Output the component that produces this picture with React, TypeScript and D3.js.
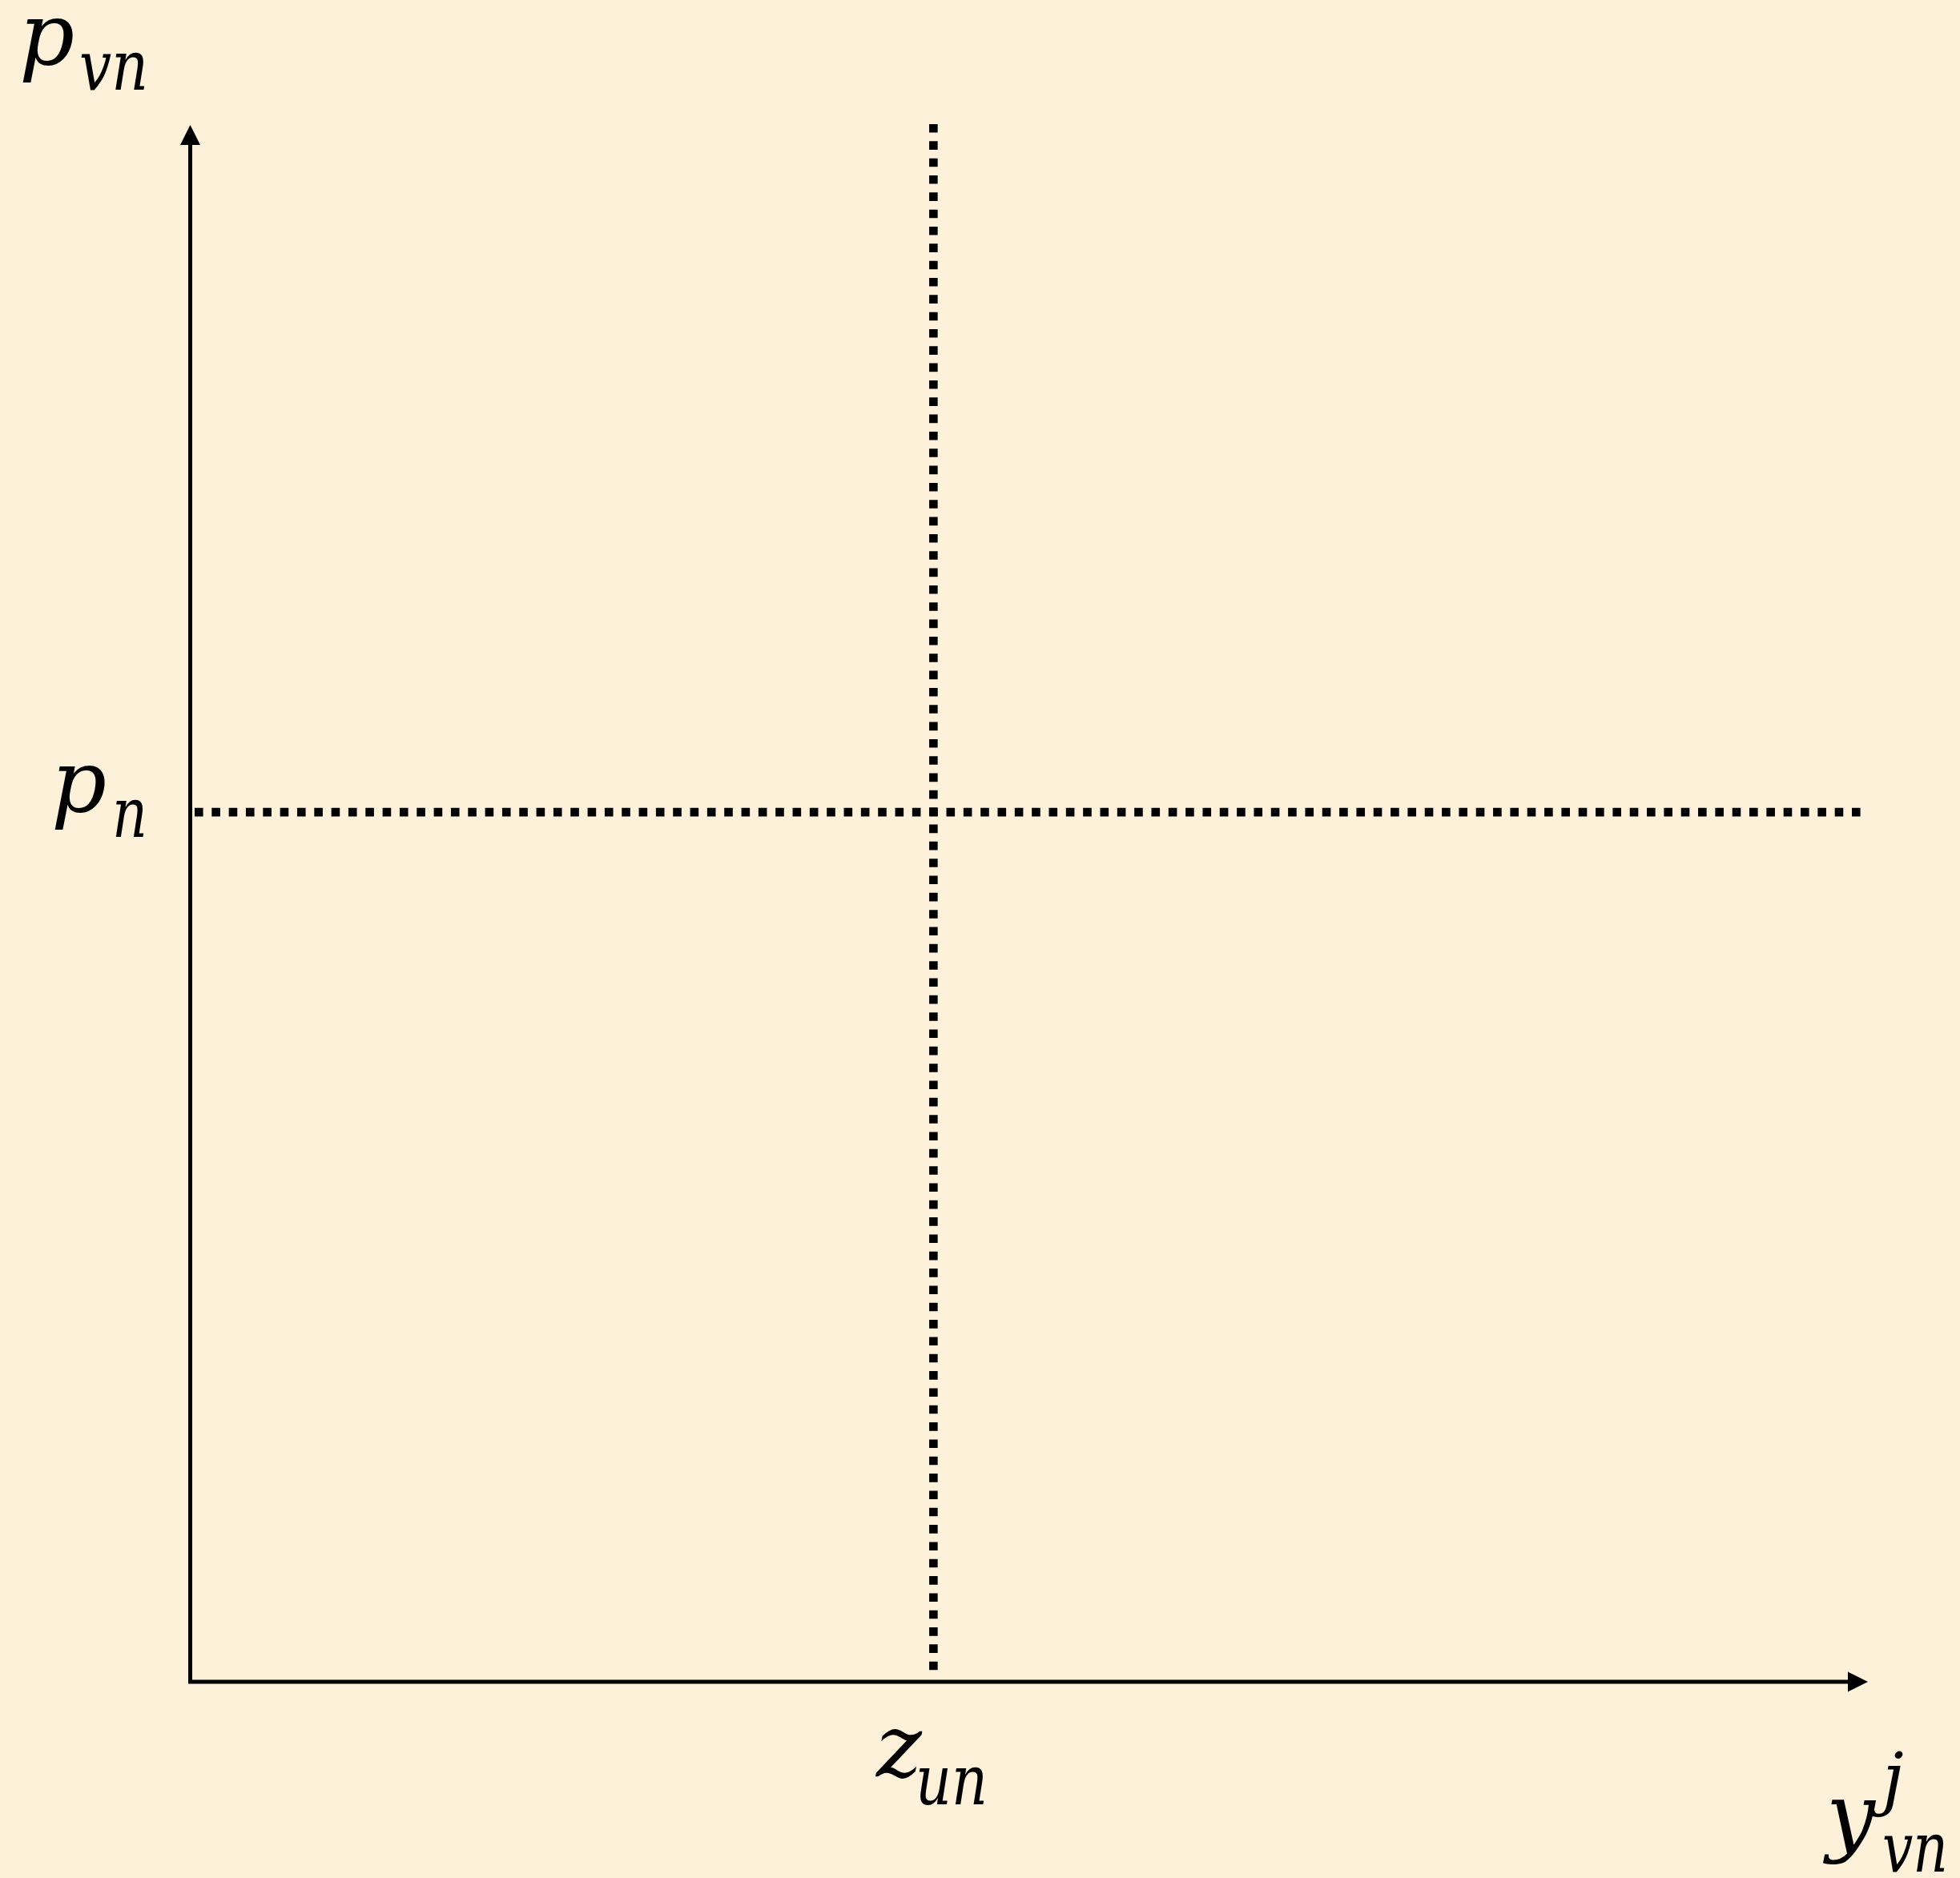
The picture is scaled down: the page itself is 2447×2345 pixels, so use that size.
import React from "react";
import * as d3 from "d3";

const W = 2447;
const H = 2345;

// Reference levels on the unit axes
const guideX = [0.443]; // z_un
const guideY = [0.5586]; // p_n

const BG = "#FDF2D9";
const INK = "#000000";

const x = d3.scaleLinear().domain([0, 1]).range([237.5, 2332]);
const y = d3.scaleLinear().domain([0, 1]).range([2100, 156]);

const FONT = "DejaVu Serif";

function Label({ base, sub, sup, bx, by, sx, sy, sw, supx, supy }: any) {
  return (
    <g fontFamily={FONT} fontStyle="italic" fill={INK}>
      <text x={bx} y={by} fontSize={108}>{base}</text>
      <text x={sx} y={sy} fontSize={86} textLength={sw} lengthAdjust="spacingAndGlyphs">{sub}</text>
      {sup && <text x={supx} y={supy} fontSize={86}>{sup}</text>}
    </g>
  );
}

export default function App() {
  const x0 = x(0), y0 = y(0), x1 = x(1), y1 = y(1);
  const head = 25;
  const half = 12.5;
  const dash = "10.6 10.73";
  return (
    <svg width={W} height={H} style={{ display: "block", position: "absolute", left: 0, top: 0 }}>
      <rect width={W} height={H} fill={BG} />
      {/* axes */}
      <line x1={x0} y1={y0} x2={x0} y2={y1 + head - 2} stroke={INK} strokeWidth={5} />
      <path d={`M${x0},${y1} L${x0 - half},${y1 + head} L${x0 + half},${y1 + head} Z`} fill={INK} />
      <line x1={x0 - 2.5} y1={y0} x2={x1 - head + 2} y2={y0} stroke={INK} strokeWidth={5} />
      <path d={`M${x1},${y0} L${x1 - head},${y0 - half} L${x1 - head},${y0 + half} Z`} fill={INK} />
      {/* guide lines */}
      {guideX.map((v, i) => (
        <line key={"gx" + i} x1={x(v)} y1={155} x2={x(v)} y2={y0 - 4} stroke={INK}
          strokeWidth={10.6} strokeDasharray={dash} />
      ))}
      {guideY.map((v, i) => (
        <line key={"gy" + i} x1={243} y1={y(v)} x2={2326} y2={y(v)} stroke={INK}
          strokeWidth={10.6} strokeDasharray={dash} />
      ))}
      {/* labels */}
      <Label base="p" sub="vn" bx={24} by={80} sx={99} sy={112} sw={86} />
      <Label base="p" sub="n" bx={64} by={1013} sx={140} sy={1045} sw={44} />
      <Label base="z" sub="un" bx={1094} by={2218} sx={1143} sy={2253} sw={90} />
      <Label base="y" sub="vn" sup="j" bx={2280} by={2304} sx={2350} sy={2337} sw={82} supx={2350} supy={2250} />
    </svg>
  );
}
